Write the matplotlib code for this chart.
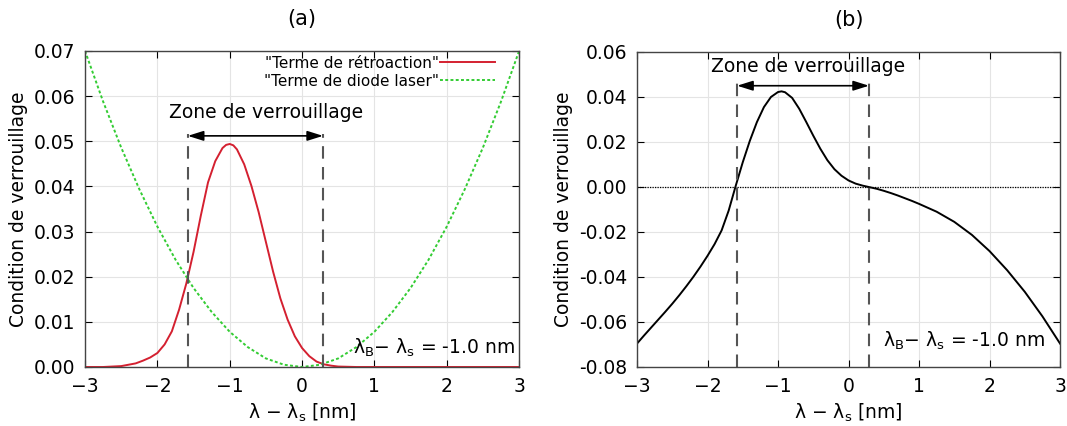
import matplotlib
matplotlib.use("Agg")
import matplotlib.pyplot as plt
from matplotlib.ticker import FormatStrFormatter

# valeurs
x_retro = [-3.0, -2.75, -2.5, -2.4, -2.3, -2.2, -2.1, -2.0, -1.9, -1.8, -1.7, -1.6, -1.5, -1.4,
           -1.3, -1.2, -1.1, -1.05, -1.0, -0.95, -0.9, -0.8, -0.7, -0.6, -0.5, -0.4, -0.3, -0.2,
           -0.1, 0.0, 0.1, 0.2, 0.3, 0.4, 0.5, 0.75, 1.0, 1.5, 2.0, 2.5, 3.0]
y_retro = [0.0, 0.0, 0.0002, 0.0005, 0.0008, 0.0014, 0.0021, 0.0031, 0.005, 0.0079, 0.0127,
           0.0185, 0.0255, 0.0335, 0.0409, 0.0456, 0.0485, 0.0492, 0.0494, 0.0491, 0.0482,
           0.0449, 0.0401, 0.0343, 0.0277, 0.0211, 0.0152, 0.0105, 0.0068, 0.0042, 0.0024,
           0.0012, 0.0006, 0.0003, 0.0001, 0.0, 0.0, 0.0, 0.0, 0.0, 0.0]

x_diode = [-3.0, -2.75, -2.5, -2.25, -2.0, -1.75, -1.5, -1.25, -1.0, -0.75, -0.5, -0.25, 0.0,
           0.25, 0.5, 0.75, 1.0, 1.25, 1.5, 1.75, 2.0, 2.25, 2.5, 2.75, 3.0]
y_diode = [0.0700, 0.0588, 0.0486, 0.0394, 0.0311, 0.0238, 0.0175, 0.0122, 0.0078, 0.0044, 0.0019,
           0.0005, 0.0, 0.0005, 0.0019, 0.0044, 0.0078, 0.0122, 0.0175, 0.0238, 0.0311, 0.0394,
           0.0486, 0.0588, 0.0700]

x_cond = [-3.0, -2.9, -2.8, -2.7, -2.6, -2.5, -2.4, -2.3, -2.2, -2.1, -2.0, -1.9, -1.8, -1.7,
          -1.6, -1.5, -1.4, -1.3, -1.2, -1.1, -1.0, -0.95, -0.9, -0.8, -0.7, -0.6, -0.5, -0.4,
          -0.3, -0.2, -0.1, 0.0, 0.1, 0.2, 0.3, 0.4, 0.5, 0.6, 0.7, 0.8, 0.9, 1.0, 1.25, 1.5,
          1.75, 2.0, 2.25, 2.5, 2.75, 3.0]
y_cond = [-0.0696, -0.0660, -0.0625, -0.0590, -0.0555, -0.0519, -0.0481, -0.0441, -0.0399,
          -0.0354, -0.0306, -0.0254, -0.0193, -0.0105, 0.0005, 0.0110, 0.0205, 0.0288, 0.0355,
          0.0400, 0.0422, 0.0425, 0.0421, 0.0396, 0.0348, 0.0289, 0.0228, 0.0170, 0.0119,
          0.0079, 0.0050, 0.0029, 0.0015, 0.0006, -0.0001, -0.0008, -0.0017, -0.0027, -0.0038,
          -0.0050, -0.0062, -0.0075, -0.0110, -0.0155, -0.0213, -0.0285, -0.0370, -0.0466,
          -0.0575, -0.0696]

zone_gauche = -1.58
zone_droite = 0.29

plt.rcParams['font.family'] = 'DejaVu Sans'
plt.rcParams['font.size'] = 13.5
plt.rcParams['mathtext.default'] = 'regular'

fig = plt.figure(figsize=(10.67, 4.26), dpi=100)
ax1 = fig.add_axes([0.0797, 0.1385, 0.4068, 0.7418])
ax2 = fig.add_axes([0.597, 0.1385, 0.3965, 0.7395])

fleche = dict(arrowstyle='<|-|>,head_length=0.7,head_width=0.22', color='black', lw=1.2,
              shrinkA=0, shrinkB=0)
annot = r'$\lambda_B$− $\lambda_s$ = -1.0 nm'

# (a)
ax1.plot(x_retro, y_retro, color='#d42030', lw=1.4, label='"Terme de rétroaction"')
ax1.plot(x_diode, y_diode, color='#33cc33', lw=1.4, linestyle=(0, (1.5, 1.2)),
         label='"Terme de diode laser"')
ax1.plot([zone_gauche, zone_gauche], [0, 0.0516], color='#555555', lw=1.5, dashes=(6, 4))
ax1.plot([zone_droite, zone_droite], [0, 0.0516], color='#555555', lw=1.5, dashes=(6, 4))
ax1.annotate('', xy=(zone_gauche, 0.0512), xytext=(zone_droite, 0.0512), arrowprops=fleche)
ax1.text(-0.5, 0.0563, 'Zone de verrouillage', ha='center', va='center')
ax1.text(2.95, 0.003, annot, ha='right', va='baseline')
ax1.set_xlim(-3, 3)
ax1.set_ylim(0, 0.07)
ax1.yaxis.set_major_formatter(FormatStrFormatter('%.2f'))
ax1.set_title('(a)', fontsize=15, pad=19)
ax1.set_xlabel(r'$\lambda$ − $\lambda_s$ [nm]')
ax1.set_ylabel('Condition de verrouillage', labelpad=4)
ax1.legend(loc='upper right', bbox_to_anchor=(0.945, 0.985), frameon=False, markerfirst=False,
           fontsize=11, handlelength=3.6, labelspacing=0.2, borderaxespad=0, borderpad=0,
           handletextpad=0.1)

# (b)
ax2.plot(x_cond, y_cond, color='black', lw=1.4)
ax2.axhline(0, color='black', lw=0.9, linestyle=(0, (1, 1)))
ax2.plot([zone_gauche, zone_gauche], [-0.08, 0.0464], color='#555555', lw=1.5, dashes=(6, 4))
ax2.plot([zone_droite, zone_droite], [-0.08, 0.0464], color='#555555', lw=1.5, dashes=(6, 4))
ax2.annotate('', xy=(zone_gauche, 0.045), xytext=(zone_droite, 0.045), arrowprops=fleche)
ax2.text(-0.58, 0.0535, 'Zone de verrouillage', ha='center', va='center')
ax2.text(2.79, -0.0711, annot, ha='right', va='baseline')
ax2.set_xlim(-3, 3)
ax2.set_ylim(-0.08, 0.06)
ax2.yaxis.set_major_formatter(FormatStrFormatter('%.2f'))
ax2.set_title('(b)', fontsize=15, pad=19)
ax2.set_xlabel(r'$\lambda$ − $\lambda_s$ [nm]')
ax2.set_ylabel('Condition de verrouillage')

for ax in (ax1, ax2):
    ax.grid(True, color='#e4e4e4', lw=0.8)
    ax.set_axisbelow(True)
    ax.tick_params(direction='in', top=True, right=True, length=5, pad=7)
    for s in ax.spines.values():
        s.set_color('#444444')
        s.set_linewidth(1.0)

fig.savefig('out.png', dpi=100)
